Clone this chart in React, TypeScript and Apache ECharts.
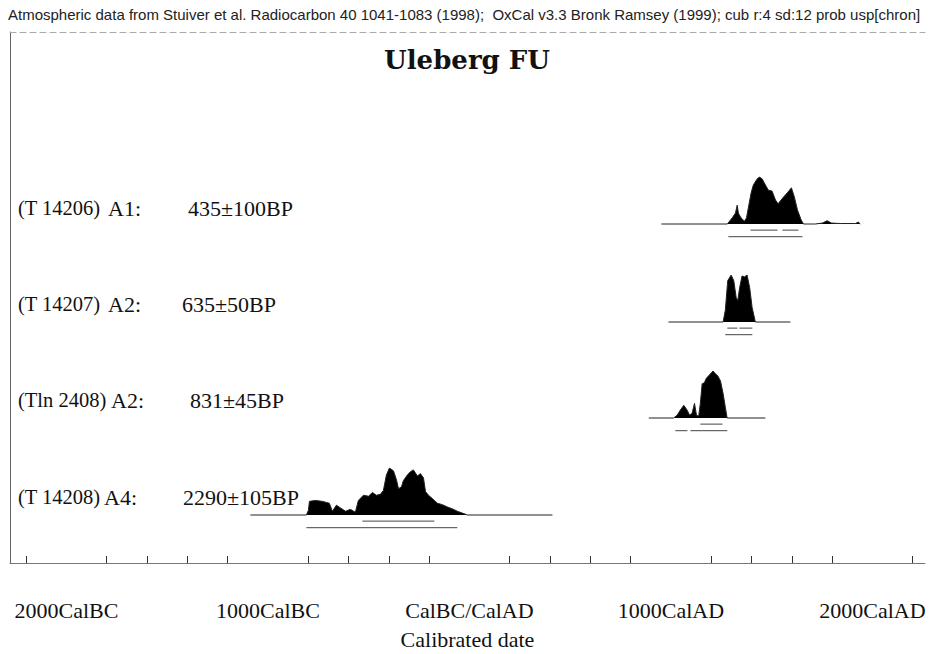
import React, { useEffect, useRef } from "react";
import * as echarts from "echarts";

const HEADER =
  "Atmospheric data from Stuiver et al. Radiocarbon 40 1041-1083 (1998);  OxCal v3.3 Bronk Ramsey (1999); cub r:4 sd:12 prob usp[chron]";
const TITLE = "Uleberg FU";
const X_NAME = "Calibrated date";

const labelYears = [-2000, -1000, 0, 1000, 2000];
const labelTexts = ["2000CalBC", "1000CalBC", "CalBC/CalAD", "1000CalAD", "2000CalAD"];
const tickYears = [-2200, -1800, -1600, -1400, -1200, -800, -600, -400, -200, 200, 400, 600, 800, 1200, 1400, 1600, 1800, 2200];

const labIds = ["(T 14206)", "(T 14207)", "(Tln 2408)", "(T 14208)"];
const sampleCodes = ["A1:", "A2:", "A2:", "A4:"];
const bpDates = ["435±100BP", "635±50BP", "831±45BP", "2290±105BP"];

// Probability distributions (years AD, negative = BC), normalised to peak 1
const row1Years = [953, 1280, 1304, 1320, 1329, 1335, 1348, 1365, 1375, 1385, 1398, 1409, 1428, 1439, 1453, 1469, 1484, 1502, 1519, 1532, 1543, 1558, 1577, 1598, 1613, 1628, 1646, 1658, 1717, 1752, 1775, 1797, 1841, 1916, 1930, 1940];
const row1Prob = [0, 0, 0.13, 0.23, 0.4, 0.23, 0.13, 0.06, 0.13, 0.36, 0.66, 0.83, 0.96, 1.0, 0.96, 0.83, 0.72, 0.7, 0.51, 0.43, 0.49, 0.57, 0.66, 0.77, 0.57, 0.3, 0.09, 0, 0, 0.02, 0.07, 0.02, 0.01, 0.01, 0.04, 0];

const row2Years = [988, 1259, 1270, 1282, 1299, 1312, 1324, 1332, 1341, 1353, 1365, 1378, 1391, 1403, 1419, 1593];
const row2Prob = [0, 0, 0.25, 0.88, 1.0, 0.88, 0.52, 0.46, 0.73, 0.98, 0.96, 1.0, 0.73, 0.31, 0, 0];

const row3Years = [890, 1014, 1031, 1047, 1064, 1080, 1093, 1105, 1117, 1127, 1138, 1146, 1155, 1166, 1176, 1188, 1200, 1209, 1221, 1232, 1246, 1259, 1270, 1279, 1469];
const row3Prob = [0, 0, 0.06, 0.17, 0.27, 0.17, 0.06, 0.1, 0.31, 0.06, 0.04, 0.31, 0.73, 0.75, 0.85, 0.9, 0.96, 1.0, 0.94, 0.9, 0.79, 0.52, 0.23, 0, 0];

const row4Years = [-1087, -809, -799, -794, -764, -730, -695, -680, -660, -640, -615, -591, -566, -551, -526, -501, -481, -462, -442, -427, -412, -397, -377, -362, -352, -337, -328, -308, -293, -278, -258, -243, -228, -218, -203, -184, -159, -134, -109, -84, -60, -35, -10, 412];
const row4Prob = [0, 0, 0.1, 0.29, 0.31, 0.29, 0.25, 0.08, 0.21, 0.15, 0.08, 0.12, 0.06, 0.31, 0.42, 0.4, 0.48, 0.42, 0.44, 0.52, 0.85, 1.0, 0.94, 0.75, 0.56, 0.6, 0.73, 0.85, 0.92, 0.96, 0.83, 0.88, 0.79, 0.5, 0.42, 0.35, 0.25, 0.22, 0.17, 0.13, 0.08, 0.04, 0, 0];

const rowYears = [row1Years, row2Years, row3Years, row4Years];
const rowProbs = [row1Prob, row2Prob, row3Prob, row4Prob];

// 68.2% and 95.4% ranges
const range68 = [
  [[1395, 1529], [1553, 1633]],
  [[1280, 1330], [1340, 1404]],
  [[1146, 1256]],
  [[-531, -174]],
];
const range95 = [
  [[1285, 1653]],
  [[1270, 1404]],
  [[1022, 1082], [1097, 1280]],
  [[-809, -60]],
];

// layout
const YEAR_MIN = -2280;
const YEAR_MAX = 2261;
const GRID_LEFT = 10;
const GRID_WIDTH = 915;
const rowBaselines = [224, 322, 418, 515];
const PEAK_H = 47;
const BELOW = 0.3;
const nameX = [18, 18, 18, 18];
const codeX = [108, 108, 111, 104];
const bpX = [188, 182, 190, 183];
const labelY = [208, 304, 400, 497];

export default function App() {
  const ref = useRef<HTMLDivElement>(null);
  useEffect(() => {
    document.body.style.margin = "0";
    if (!ref.current) return;
    const chart = echarts.init(ref.current, undefined, { renderer: "svg" });

    const grids: any[] = [
      { left: GRID_LEFT, width: GRID_WIDTH, top: 32, height: 531, containLabel: false, outerBoundsMode: "none" },
    ];
    const xAxes: any[] = [
      {
        type: "value",
        gridIndex: 0,
        min: YEAR_MIN,
        max: YEAR_MAX,
        position: "bottom",
        name: X_NAME,
        nameLocation: "middle",
        nameGap: 65,
        nameTextStyle: { fontFamily: "Liberation Serif", fontSize: 22, color: "#111" },
        axisLine: { show: true, onZero: false, lineStyle: { color: "#777", width: 1 } },
        axisTick: {
          show: true,
          inside: true,
          length: 7,
          customValues: tickYears,
          lineStyle: { color: "#333", width: 1 },
        },
        axisLabel: {
          show: true,
          customValues: labelYears,
          margin: 36,
          fontFamily: "Liberation Serif",
          fontSize: 22,
          color: "#111",
          formatter: (v: number) => {
            const i = labelYears.indexOf(v);
            return i >= 0 ? labelTexts[i] : "";
          },
        },
        splitLine: { show: false },
      },
      {
        type: "value",
        gridIndex: 0,
        min: YEAR_MIN,
        max: YEAR_MAX,
        position: "top",
        axisLine: { show: true, onZero: false, lineStyle: { color: "#aaa", width: 1, type: [6, 4] } },
        axisTick: { show: false },
        axisLabel: { show: false },
        splitLine: { show: false },
      },
    ];
    const yAxes: any[] = [
      {
        type: "value",
        gridIndex: 0,
        min: 0,
        max: 1,
        position: "left",
        axisLine: { show: true, onZero: false, lineStyle: { color: "#666", width: 1 } },
        axisTick: { show: false },
        axisLabel: { show: false },
        splitLine: { show: false },
      },
    ];
    const series: any[] = [];
    const graphics: any[] = [
      {
        type: "text",
        left: 8,
        top: 7,
        style: { text: HEADER, fontFamily: "Liberation Sans", fontSize: 15, fill: "#222" },
      },
      {
        type: "text",
        x: 467,
        y: 60,
        style: {
          text: TITLE,
          fontFamily: "DejaVu Serif",
          fontWeight: "bold",
          fontSize: 26,
          fill: "#111",
          align: "center",
          verticalAlign: "middle",
        },
      },
    ];

    rowBaselines.forEach((base, i) => {
      const gi = i + 1;
      grids.push({
        left: GRID_LEFT,
        width: GRID_WIDTH,
        top: base - PEAK_H,
        height: PEAK_H * (1 + BELOW),
        containLabel: false,
        outerBoundsMode: "none",
      });
      xAxes.push({ type: "value", gridIndex: gi, min: YEAR_MIN, max: YEAR_MAX, show: false });
      yAxes.push({ type: "value", gridIndex: gi, min: -BELOW, max: 1, show: false });
      series.push({
        type: "line",
        xAxisIndex: i + 2,
        yAxisIndex: gi,
        data: rowYears[i].map((y, k) => [y, rowProbs[i][k]]),
        symbol: "none",
        lineStyle: { color: "#222", width: 1 },
        areaStyle: { color: "#000", opacity: 1, origin: "auto" },
        silent: true,
      });
      range68[i].forEach((r) => {
        series.push({
          type: "line",
          xAxisIndex: i + 2,
          yAxisIndex: gi,
          data: [[r[0], -0.13], [r[1], -0.13]],
          symbol: "none",
          lineStyle: { color: "#444", width: 1 },
          silent: true,
        });
      });
      range95[i].forEach((r) => {
        series.push({
          type: "line",
          xAxisIndex: i + 2,
          yAxisIndex: gi,
          data: [[r[0], -0.27], [r[1], -0.27]],
          symbol: "none",
          lineStyle: { color: "#444", width: 1 },
          silent: true,
        });
      });
      const ts = { fontFamily: "Liberation Serif", fill: "#111", verticalAlign: "middle" };
      graphics.push({ type: "text", x: nameX[i], y: labelY[i], style: { ...ts, fontSize: 20.5, text: labIds[i] } });
      graphics.push({ type: "text", x: codeX[i], y: labelY[i], style: { ...ts, fontSize: 22, text: sampleCodes[i] } });
      graphics.push({ type: "text", x: bpX[i], y: labelY[i], style: { ...ts, fontSize: 22, text: bpDates[i] } });
    });

    chart.setOption({
      animation: false,
      backgroundColor: "#fff",
      grid: grids,
      xAxis: xAxes,
      yAxis: yAxes,
      series,
      graphic: graphics,
    });
    return () => chart.dispose();
  }, []);
  return <div ref={ref} style={{ width: 929, height: 654 }} />;
}
